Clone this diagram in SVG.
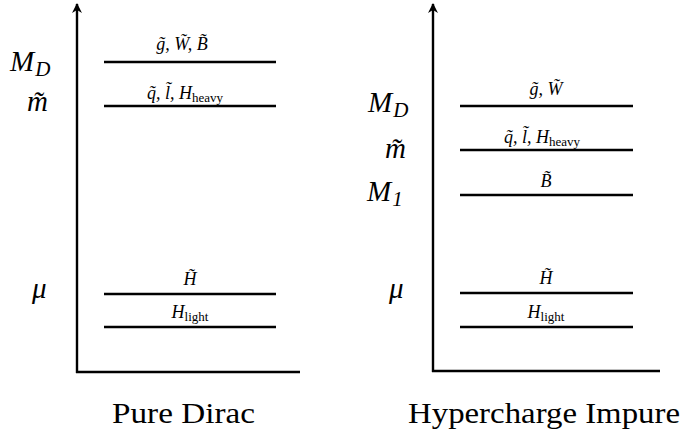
<svg xmlns="http://www.w3.org/2000/svg" width="682" height="433" viewBox="0 0 682 433">
<defs>
<marker id="ah" viewBox="0 0 10 10" refX="9" refY="5" markerWidth="10" markerHeight="10" markerUnits="userSpaceOnUse" orient="auto">
<path d="M0,0 L10,5 L0,10 L3,5 z" fill="#000"/>
</marker>
<style>
.ax{stroke:#000;stroke-width:2.4;fill:none}
.lv{stroke:#000;stroke-width:2.4}
.big{font-family:"Liberation Serif","Times New Roman",serif;font-style:italic;font-size:29px;fill:#000}
.sm{font-family:"Liberation Serif","Times New Roman",serif;font-style:italic;font-size:18px;fill:#000}
.up{font-style:normal}
.ttl{font-family:"Liberation Serif","Times New Roman",serif;font-size:29px;fill:#000}
</style>
</defs>
<g id="connectors">
<line class="ax" x1="77" y1="373" x2="77" y2="4" marker-end="url(#ah)"/>
<line class="ax" x1="76" y1="372" x2="300" y2="372"/>
<line class="ax" x1="433" y1="372" x2="433" y2="4" marker-end="url(#ah)"/>
<line class="ax" x1="432" y1="371" x2="660" y2="371"/>
</g>
<g id="pure-dirac">
<text class="big" x="10" y="71">M<tspan font-size="21" dx="1" dy="5">D</tspan></text>
<text class="big" x="27" y="111">m̃</text>
<text class="big" x="32" y="298">μ</text>
<g id="pd-gWB"><line class="lv" x1="104" y1="62" x2="276" y2="62"/><text class="sm" x="182" y="50" text-anchor="middle">g̃, W̃, B̃</text></g>
<g id="pd-qlH"><line class="lv" x1="104" y1="106" x2="276" y2="106"/><text class="sm" x="185" y="99" text-anchor="middle">q̃, l̃, H<tspan class="up" font-size="13" dy="3">heavy</tspan></text></g>
<g id="pd-Ht"><line class="lv" x1="104" y1="294" x2="276" y2="294"/><text class="sm" x="190" y="285" text-anchor="middle">H̃</text></g>
<g id="pd-Hl"><line class="lv" x1="104" y1="327" x2="276" y2="327"/><text class="sm" x="190" y="318" text-anchor="middle">H<tspan class="up" font-size="13" dy="3">light</tspan></text></g>
<text class="ttl" x="112" y="423" textLength="143" lengthAdjust="spacingAndGlyphs">Pure Dirac</text>
</g>
<g id="hypercharge-impure">
<text class="big" x="368" y="112">M<tspan font-size="21" dx="1" dy="5">D</tspan></text>
<text class="big" x="385" y="158">m̃</text>
<text class="big" x="367" y="201">M<tspan font-size="21" dx="1" dy="5">1</tspan></text>
<text class="big" x="389" y="298">μ</text>
<g id="hi-gW"><line class="lv" x1="460" y1="106" x2="633" y2="106"/><text class="sm" x="546" y="95" text-anchor="middle">g̃, W̃</text></g>
<g id="hi-qlH"><line class="lv" x1="460" y1="150" x2="633" y2="150"/><text class="sm" x="542" y="143" text-anchor="middle">q̃, l̃, H<tspan class="up" font-size="13" dy="3">heavy</tspan></text></g>
<g id="hi-B"><line class="lv" x1="460" y1="195" x2="633" y2="195"/><text class="sm" x="546" y="187" text-anchor="middle">B̃</text></g>
<g id="hi-Ht"><line class="lv" x1="460" y1="293" x2="633" y2="293"/><text class="sm" x="546" y="284" text-anchor="middle">H̃</text></g>
<g id="hi-Hl"><line class="lv" x1="460" y1="327" x2="633" y2="327"/><text class="sm" x="546" y="318" text-anchor="middle">H<tspan class="up" font-size="13" dy="3">light</tspan></text></g>
<text class="ttl" x="408" y="423" textLength="272" lengthAdjust="spacingAndGlyphs">Hypercharge Impure</text>
</g>
</svg>
